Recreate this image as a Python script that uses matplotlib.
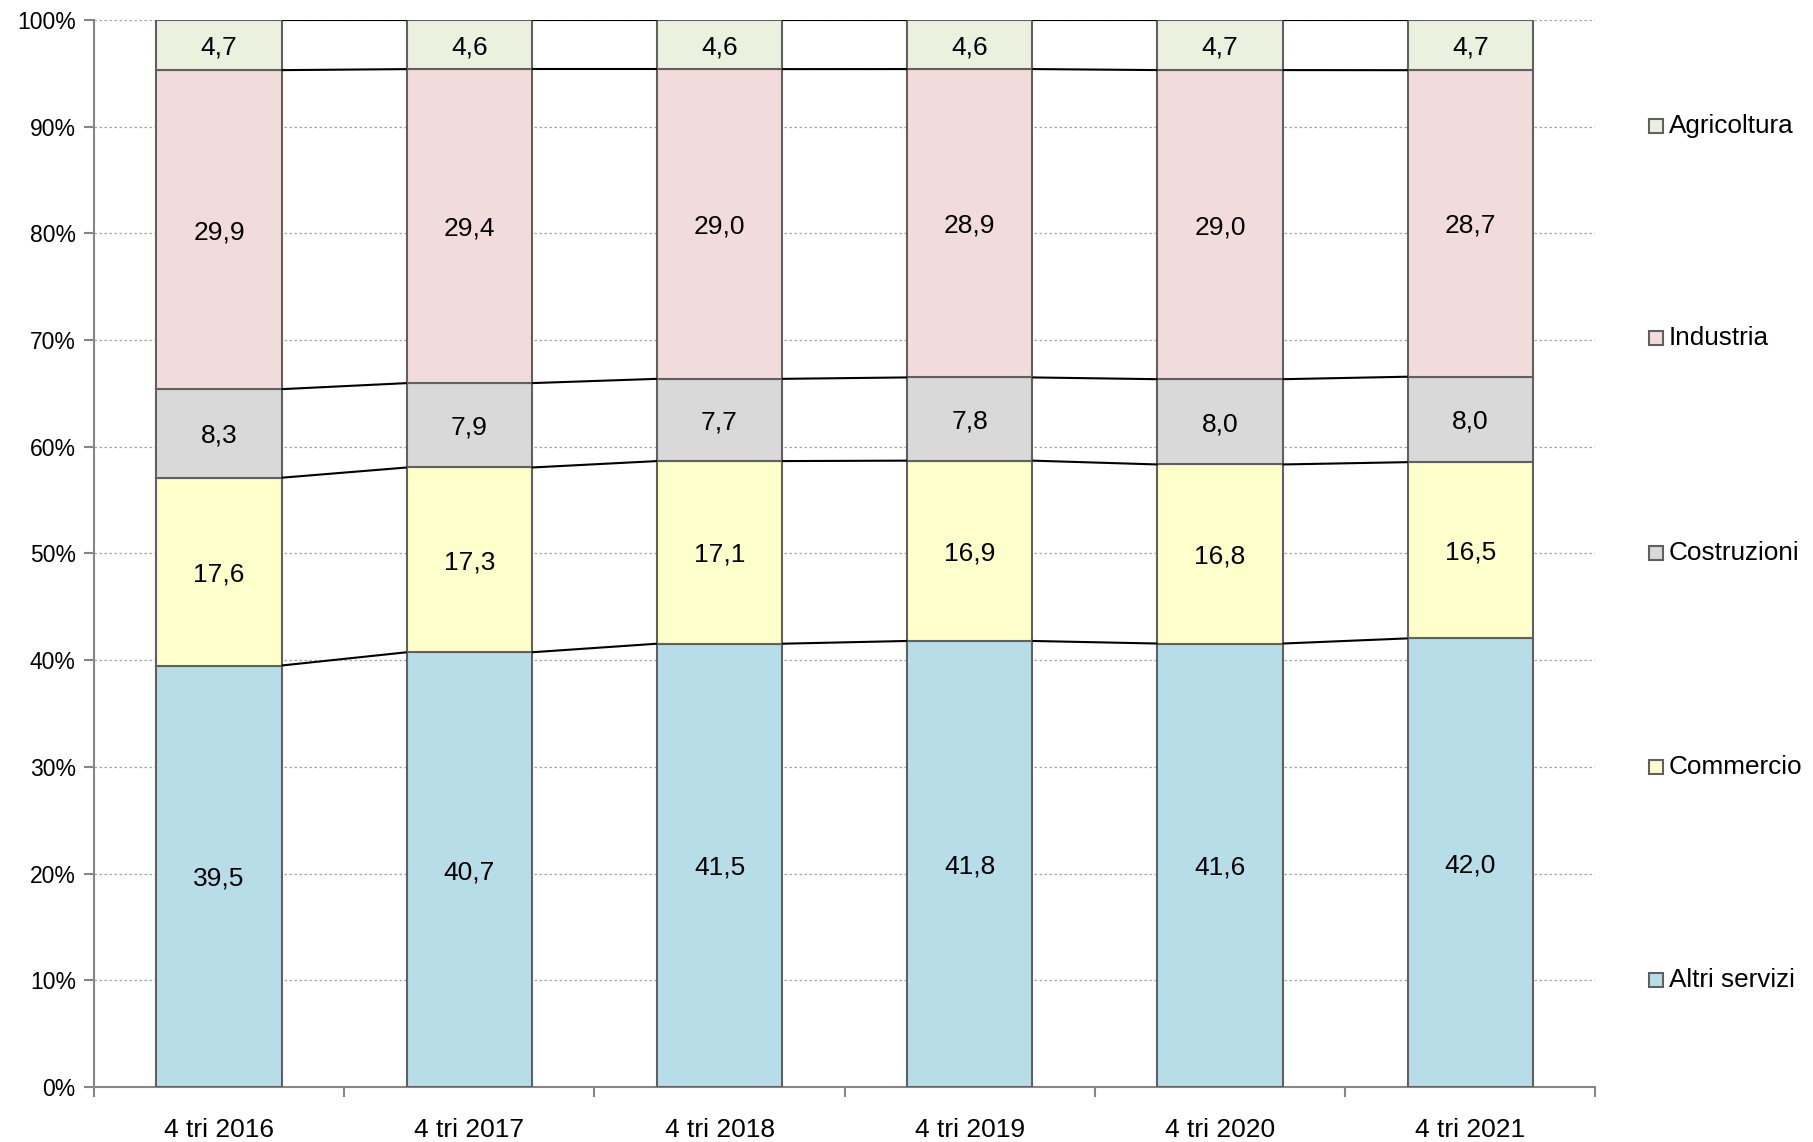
import matplotlib
matplotlib.use("Agg")
import matplotlib.pyplot as plt
from matplotlib.patches import Rectangle
from matplotlib.ticker import FixedLocator, NullFormatter
import numpy as np

plt.rcParams['font.family'] = ['Liberation Sans', 'DejaVu Sans']

categories = ["4 tri 2016", "4 tri 2017", "4 tri 2018", "4 tri 2019", "4 tri 2020", "4 tri 2021"]
altri_servizi = [39.5, 40.7, 41.5, 41.8, 41.6, 42.0]
commercio = [17.6, 17.3, 17.1, 16.9, 16.8, 16.5]
costruzioni = [8.3, 7.9, 7.7, 7.8, 8.0, 8.0]
industria = [29.9, 29.4, 29.0, 28.9, 29.0, 28.7]
agricoltura = [4.7, 4.6, 4.6, 4.6, 4.7, 4.7]

series_names = ["Altri servizi", "Commercio", "Costruzioni", "Industria", "Agricoltura"]
series_vals = [altri_servizi, commercio, costruzioni, industria, agricoltura]
colors = ["#B7DEE8", "#FFFFCC", "#D9D9D9", "#F2DCDB", "#EBF1DE"]
edge = "#606060"

fig = plt.figure(figsize=(18.13, 11.42), dpi=100)
ax = fig.add_axes([0.0518, 0.0482, 0.8282, 0.9343])

x = np.arange(len(categories))
width = 0.5
totals = np.sum(np.array(series_vals, dtype=float), axis=0)
bottom = np.zeros(len(categories))
tops = []
for name, vals, c in zip(series_names, series_vals, colors):
    vals = np.array(vals, dtype=float)
    pct = vals / totals * 100.0  # 100% stacked
    ax.bar(x, pct, width, bottom=bottom, color=c, edgecolor=edge, linewidth=1.5, zorder=3, label=name)
    for xi, v, p, b in zip(x, vals, pct, bottom):
        ax.text(xi, b + p / 2, f"{v:.1f}".replace(".", ","), ha="center", va="center_baseline",
                fontsize=19, color="black", zorder=5)
    bottom = bottom + pct
    tops.append(bottom.copy())

# series lines between bars
for t in tops:
    for i in range(len(categories) - 1):
        ax.plot([x[i] + width / 2, x[i + 1] - width / 2], [t[i], t[i + 1]],
                color="black", linewidth=1.5, zorder=4, solid_capstyle="butt")

ax.set_xlim(-0.5, len(categories) - 0.5)
ax.set_ylim(0, 100)
ax.set_yticks(np.arange(0, 101, 10))
ax.set_yticklabels([f"{v}%" for v in range(0, 101, 10)], fontsize=16.5)
ax.yaxis.grid(True, linestyle=(0, (2, 2)), color="#A6A6A6", linewidth=0.9, zorder=0)

ax.set_xticks(x)
ax.set_xticklabels(categories, fontsize=19)
ax.tick_params(axis="x", which="major", length=0, pad=22)
ax.xaxis.set_minor_locator(FixedLocator(np.arange(-0.5, len(categories), 1.0)))
ax.xaxis.set_minor_formatter(NullFormatter())
ax.tick_params(axis="x", which="minor", length=7, color="#868686", width=1.5, direction="out")
ax.tick_params(axis="y", length=7, color="#868686", width=1.5, pad=6)

for s in ["top", "right"]:
    ax.spines[s].set_visible(False)
for s in ["left", "bottom"]:
    ax.spines[s].set_color("#868686")
    ax.spines[s].set_linewidth(1.5)

# legend on the right
W, H = 1813, 1142
legend_y = [126, 338, 553, 767, 980]
legend_names = ["Agricoltura", "Industria", "Costruzioni", "Commercio", "Altri servizi"]
legend_cols = ["#EBF1DE", "#F2DCDB", "#D9D9D9", "#FFFFCC", "#B7DEE8"]
for yy, nm, c in zip(legend_y, legend_names, legend_cols):
    s = 14
    fig.patches.append(Rectangle((1649 / W, (H - yy - s / 2) / H), s / W, s / H,
                                 transform=fig.transFigure, facecolor=c, edgecolor=edge, linewidth=1.5))
    fig.text(1669 / W, (H - yy) / H, nm, fontsize=18.8, va="center", ha="left")

fig.savefig("out.png", dpi=100)
